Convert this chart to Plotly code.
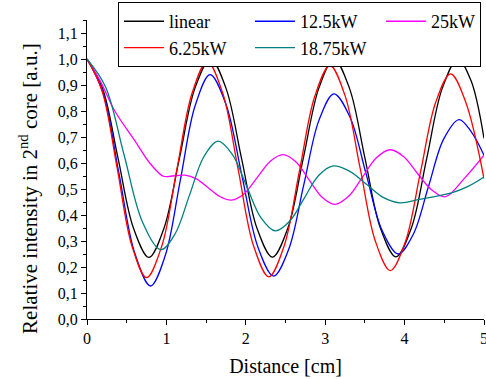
import plotly.graph_objects as go

# ---- data ----
x_linear = [0, 0.195, 0.39, 0.585, 0.78, 0.97, 1.165, 1.36, 1.555, 1.75, 1.945, 2.14, 2.335,
            2.53, 2.725, 2.92, 3.11, 3.305, 3.5, 3.695, 3.89, 4.085, 4.28, 4.475, 4.67, 4.835, 5.0]
y_linear = [1.0, 0.888, 0.62, 0.35, 0.237, 0.35, 0.62, 0.888, 1.0, 0.888, 0.62, 0.35, 0.238,
            0.35, 0.62, 0.888, 1.0, 0.888, 0.62, 0.35, 0.239, 0.35, 0.62, 0.888, 1.0, 0.918, 0.695]

x_625 = [0, 0.19, 0.38, 0.565, 0.75, 0.941, 1.132, 1.323, 1.515, 1.709, 1.903, 2.096, 2.29,
         2.483, 2.675, 2.868, 3.06, 3.25, 3.44, 3.63, 3.82, 4.01, 4.2, 4.39, 4.58, 4.77, 5.0]
y_625 = [1.0, 0.877, 0.58, 0.282, 0.159, 0.28, 0.575, 0.868, 0.99, 0.869, 0.576, 0.283, 0.162,
         0.281, 0.5685, 0.856, 0.975, 0.859, 0.58, 0.301, 0.186, 0.297, 0.5645, 0.832, 0.943, 0.834, 0.54]

x_125 = [0, 0.2, 0.4, 0.6, 0.8, 0.9875, 1.175, 1.3625, 1.55, 1.75, 1.95, 2.15, 2.35,
         2.54, 2.73, 2.92, 3.11, 3.3125, 3.515, 3.7175, 3.92, 4.11, 4.30, 4.49, 4.685, 4.84, 5.0]
y_125 = [1.0, 0.872, 0.5635, 0.255, 0.127, 0.246, 0.5335, 0.821, 0.94, 0.826, 0.5525, 0.279, 0.165,
         0.268, 0.5155, 0.763, 0.866, 0.776, 0.558, 0.340, 0.25, 0.326, 0.5085, 0.691, 0.767, 0.72, 0.63]

x_1875 = [0, 0.2325, 0.465, 0.6975, 0.93, 1.11, 1.29, 1.47, 1.65, 1.83, 2.01, 2.19, 2.37,
          2.5525, 2.735, 2.9175, 3.10, 3.31, 3.52, 3.73, 3.94, 4.19, 4.59, 4.8, 5.0]
y_1875 = [1.0, 0.893, 0.6335, 0.374, 0.267, 0.328, 0.4755, 0.623, 0.684, 0.633, 0.5115, 0.39, 0.339,
          0.376, 0.464, 0.552, 0.589, 0.568, 0.518, 0.468, 0.447, 0.46, 0.485, 0.51, 0.546]

x_25 = [0, 0.164, 0.35, 0.6, 0.79, 0.96, 1.05, 1.23, 1.3775, 1.525, 1.6725, 1.82, 1.98, 2.145, 2.31,
        2.47, 2.6325, 2.795, 2.9575, 3.12, 3.295, 3.47, 3.645, 3.82, 3.99, 4.16, 4.34, 4.51, 4.75, 5.0]
y_25 = [1.0, 0.917, 0.80, 0.687, 0.60, 0.549, 0.549, 0.553, 0.539, 0.505, 0.471, 0.457, 0.482, 0.5445, 0.607,
        0.632, 0.604, 0.5365, 0.469, 0.441, 0.472, 0.546, 0.62, 0.651, 0.624, 0.5605, 0.497, 0.47, 0.54, 0.63]

series = [
    ("linear", x_linear, y_linear, "#000000", 1),
    ("12.5kW", x_125, y_125, "#0000ff", 2),
    ("25kW", x_25, y_25, "#ff00ff", 3),
    ("6.25kW", x_625, y_625, "#ff0000", 4),
    ("18.75kW", x_1875, y_1875, "#008080", 5),
]

FONT = "Liberation Serif"

fig = go.Figure()
for name, xs, ys, color, rank in series:
    fig.add_trace(go.Scatter(x=xs, y=ys, name=name, mode="lines",
                             line=dict(color=color, width=1.3, shape="spline", smoothing=1.0),
                             legendrank=rank, legendwidth=(76 if name == "18.75kW" else None)))

fig.update_layout(
    width=486, height=379,
    margin=dict(l=87, r=2, t=20, b=60, autoexpand=False),
    paper_bgcolor="white", plot_bgcolor="white",
    separators=",.",
    font=dict(family=FONT, size=16, color="black"),
    showlegend=True,
    legend=dict(orientation="h", x=0.078, y=1.060, xanchor="left", yanchor="top",
                bgcolor="white", bordercolor="black", borderwidth=1,
                font=dict(family=FONT, size=18, color="black"),
                tracegroupgap=0, itemwidth=40),
    annotations=[dict(text="Relative intensity in 2<sup>nd</sup> core [a.u.]",
                      xref="paper", yref="paper", x=-0.149, y=0.438,
                      xanchor="center", yanchor="middle", textangle=-90, showarrow=False,
                      font=dict(family=FONT, size=21, color="black"))],
)
fig.update_xaxes(range=[0, 5], dtick=1, tick0=0, showgrid=False, zeroline=False,
                 showline=True, linecolor="black", linewidth=1,
                 ticks="outside", ticklen=5, tickcolor="black", ticklabeloverflow="allow",
                 minor=dict(dtick=0.5, ticks="outside", ticklen=3, tickcolor="black", showgrid=False),
                 tickfont=dict(family=FONT, size=16),
                 title=dict(text="Distance [cm]", font=dict(family=FONT, size=20), standoff=12))
fig.update_yaxes(range=[0, 1.15], dtick=0.1, tick0=0, tickformat=".1f", showgrid=False, zeroline=False,
                 showline=True, linecolor="black", linewidth=1,
                 ticks="outside", ticklen=5, tickcolor="black",
                 minor=dict(dtick=0.05, ticks="outside", ticklen=3, tickcolor="black", showgrid=False),
                 tickfont=dict(family=FONT, size=16))

fig.write_html("out.html", config={"displayModeBar": False},
               post_script="document.body.style.margin='0';")
